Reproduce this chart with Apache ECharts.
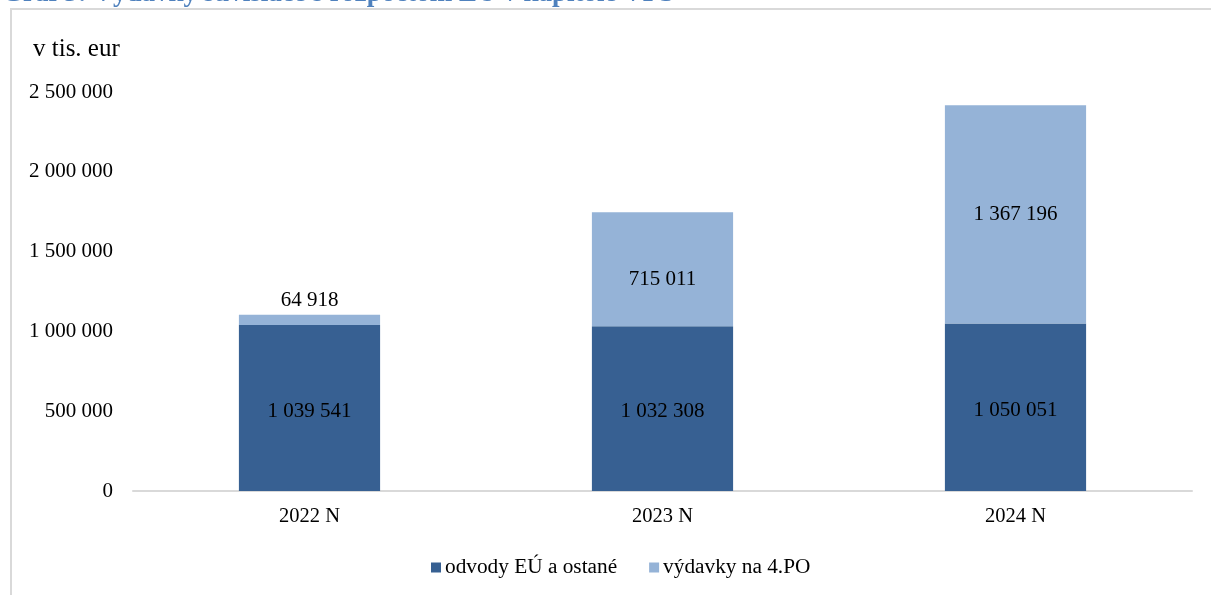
<!DOCTYPE html>
<html><head><meta charset="utf-8">
<script src="https://cdn.jsdelivr.net/npm/echarts@6/dist/echarts.min.js"></script>
<style>html,body{margin:0;padding:0;background:#fff}#c{width:1211px;height:595px}</style>
</head><body><div id="c"></div>
<script>
const categories = ['2022 N', '2023 N', '2024 N'];
const odvody = [1039541, 1032308, 1050051];
const vydavky = [64918, 715011, 1367196];
const seriesNames = ['odvody EÚ a ostané', 'výdavky na 4.PO'];
const yTicks = [0, 500000, 1000000, 1500000, 2000000, 2500000];

const FONT = 'Liberation Serif';
const fmt = v => String(v).replace(/\B(?=(\d{3})+(?!\d))/g, ' ');

const chart = echarts.init(document.getElementById('c'), null, {renderer: 'canvas'});
chart.setOption({
  animation: false,
  textStyle: {fontFamily: FONT},
  graphic: [
    {type: 'rect', shape: {x: 11, y: 9, width: 1220, height: 600}, style: {fill: 'none', stroke: '#d9d9d9', lineWidth: 2}},
    {type: 'text', left: 2, top: -19, style: {text: 'Graf 5: Výdavky súvisiace s rozpočtom EÚ v kapitole VPS', fontSize: 27, fontWeight: 'bold', fontStyle: 'normal', fontFamily: FONT, fill: '#4f81bd'}},
    {type: 'text', left: 33, top: 37, style: {text: 'v tis. eur', fontSize: 25, fontFamily: FONT, fill: '#000'}}
  ],
  grid: {left: 133, right: 19, top: 92, bottom: 104, containLabel: false},
  legend: {
    bottom: 12, left: 426, itemWidth: 10, itemHeight: 10, itemGap: 32,
    icon: 'rect',
    textStyle: {fontFamily: FONT, fontSize: 21.3, color: '#000', padding: [0, 0, 0, -1]},
    data: seriesNames
  },
  xAxis: {
    type: 'category', data: categories,
    axisLine: {lineStyle: {color: '#d9d9d9', width: 2}},
    axisTick: {show: false},
    axisLabel: {fontFamily: FONT, fontSize: 20.5, color: '#000', margin: 15}
  },
  yAxis: {
    type: 'value', min: 0, max: 2500000, interval: 500000,
    axisLine: {show: false}, axisTick: {show: false},
    splitLine: {show: false},
    axisLabel: {fontFamily: FONT, fontSize: 21, color: '#000', margin: 20, formatter: v => yTicks.includes(v) ? fmt(v) : ''}
  },
  series: [
    {
      name: seriesNames[0], type: 'bar', stack: 'a', barWidth: '40%',
      itemStyle: {color: '#376092'},
      label: {show: true, position: 'inside', offset: [0, 3], color: '#000', fontFamily: FONT, fontSize: 21, formatter: p => fmt(p.value)},
      data: odvody
    },
    {
      name: seriesNames[1], type: 'bar', stack: 'a', barWidth: '40%',
      itemStyle: {color: '#95b3d7'},
      label: {show: true, position: 'inside', color: '#000', fontFamily: FONT, fontSize: 21, formatter: p => fmt(p.value)},
      data: vydavky.map((v, i) => i === 0
        ? {value: v, label: {position: 'top', distance: 4}}
        : (i === 1 ? {value: v, label: {offset: [0, 10]}} : v))
    }
  ]
});
</script></body></html>
